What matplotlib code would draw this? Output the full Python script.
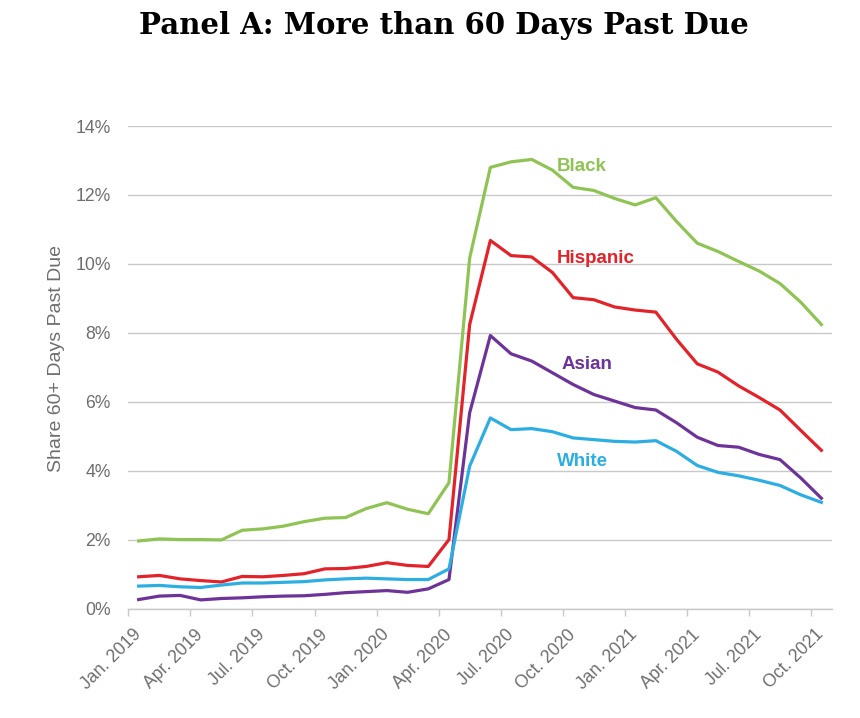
import matplotlib
matplotlib.use("Agg")
import matplotlib.pyplot as plt
import numpy as np

# monthly share 60+ days past due (%), Jan. 2019 .. Oct. 2021
tick_labels = ["Jan. 2019", "Apr. 2019", "Jul. 2019", "Oct. 2019",
               "Jan. 2020", "Apr. 2020", "Jul. 2020", "Oct. 2020",
               "Jan. 2021", "Apr. 2021", "Jul. 2021", "Oct. 2021"]

black = [1.96, 2.02, 2.00, 2.00, 1.99, 2.27, 2.31, 2.39, 2.52, 2.62, 2.64, 2.90,
         3.07, 2.88, 2.75, 3.65, 10.17, 12.80, 12.96, 13.03, 12.72, 12.22, 12.13,
         11.90, 11.71, 11.92, 11.23, 10.60, 10.36, 10.07, 9.79, 9.43, 8.89, 8.24]
hispanic = [0.92, 0.96, 0.86, 0.81, 0.77, 0.93, 0.92, 0.96, 1.01, 1.15, 1.16, 1.22,
            1.33, 1.25, 1.22, 2.00, 8.24, 10.68, 10.24, 10.20, 9.75, 9.02, 8.96,
            8.75, 8.66, 8.60, 7.81, 7.10, 6.86, 6.46, 6.12, 5.76, 5.17, 4.59]
asian = [0.26, 0.36, 0.38, 0.25, 0.29, 0.31, 0.34, 0.36, 0.37, 0.41, 0.46, 0.49,
         0.52, 0.47, 0.57, 0.84, 5.68, 7.92, 7.39, 7.18, 6.84, 6.50, 6.21,
         6.02, 5.83, 5.76, 5.39, 4.97, 4.73, 4.68, 4.47, 4.32, 3.79, 3.20]
white = [0.65, 0.67, 0.63, 0.61, 0.68, 0.74, 0.74, 0.76, 0.78, 0.83, 0.86, 0.88,
         0.86, 0.84, 0.84, 1.15, 4.13, 5.53, 5.19, 5.22, 5.13, 4.95, 4.90,
         4.85, 4.83, 4.87, 4.56, 4.15, 3.95, 3.85, 3.72, 3.57, 3.30, 3.08]

series = [
    ("Black", black, "#8fc454", (20.22, 12.82)),
    ("Hispanic", hispanic, "#e2232a", (20.22, 10.15)),
    ("Asian", asian, "#6e3399", (20.46, 7.09)),
    ("White", white, "#2caee3", (20.22, 4.26)),
]

GRAY = "#6e6e6e"
GRID = "#c9c9c9"

fig = plt.figure(figsize=(8.6, 7.18), dpi=100)
ax = fig.add_axes([0.1492, 0.1525, 0.8179, 0.672])

x = np.arange(len(black))
for name, vals, color, (tx, ty) in series:
    ax.plot(x, vals, color=color, lw=2.3, solid_joinstyle="round")
    ax.text(tx, ty, name, color=color, fontsize=13.5, fontweight="bold",
            family="Liberation Sans", ha="left", va="center")

ax.set_xlim(-0.5, 33.5)
ax.set_ylim(0, 14)
ax.set_yticks(np.arange(0, 15, 2))
ax.set_yticklabels([f"{v}%" for v in range(0, 15, 2)])
ax.yaxis.grid(True, color=GRID, lw=1)
ax.set_axisbelow(True)

ax.set_xticks(np.arange(0, 34, 3))
ax.set_xticklabels(tick_labels)
ax.set_xticks(np.arange(-0.5, 33, 3), minor=True)
ax.tick_params(axis="x", which="major", length=0, pad=17, labelcolor=GRAY,
               labelsize=12.7)
ax.tick_params(axis="x", which="minor", length=5, width=1, color=GRID)
ax.tick_params(axis="y", length=0, pad=12.5, labelcolor=GRAY, labelsize=12.7)
for lab in ax.get_xticklabels():
    lab.set_rotation(45)
    lab.set_ha("right")
    lab.set_va("center")
    lab.set_rotation_mode("anchor")
for lab in ax.get_xticklabels() + ax.get_yticklabels():
    lab.set_family("Liberation Sans")

for side in ["top", "right", "left"]:
    ax.spines[side].set_visible(False)
ax.spines["bottom"].set_color(GRID)
ax.spines["bottom"].set_linewidth(1)

fig.text(0.066, 0.50, "Share 60+ Days Past Due", rotation=90, color=GRAY,
         fontsize=14, family="Liberation Sans", ha="center", va="center")

fig.text(0.516, 0.964, "Panel A: More than 60 Days Past Due", family="DejaVu Serif",
         fontweight="bold", fontsize=21, ha="center", va="center", color="black")

fig.savefig("out.png", dpi=100)
